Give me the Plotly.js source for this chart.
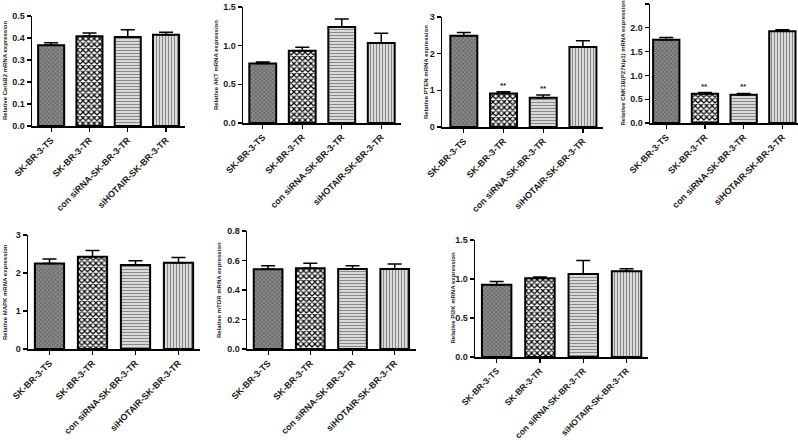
<!DOCTYPE html>
<html>
<head>
<meta charset="utf-8">
<script src="https://cdn.plot.ly/plotly-3.0.1.min.js"></script>
<style>html,body{margin:0;padding:0;background:#fff;}#chart{width:798px;height:442px;}</style>
</head>
<body>
<div id="chart"></div>
<script>
const categories = ["SK-BR-3-TS", "SK-BR-3-TR", "con siRNA-SK-BR-3-TR", "siHOTAIR-SK-BR-3-TR"];

const cerbb2 = [0.367, 0.408, 0.405, 0.415];
const cerbb2Err = [0.011, 0.015, 0.033, 0.011];
const akt = [0.77, 0.935, 1.24, 1.035];
const aktErr = [0.02, 0.045, 0.105, 0.125];
const pten = [2.49, 0.915, 0.80, 2.18];
const ptenErr = [0.09, 0.045, 0.07, 0.17];
const cdkn = [1.75, 0.615, 0.594, 1.93];
const cdknErr = [0.045, 0.025, 0.026, 0.03];
const mapk = [2.25, 2.43, 2.21, 2.27];
const mapkErr = [0.12, 0.16, 0.11, 0.14];
const mtor = [0.54, 0.547, 0.542, 0.542];
const mtorErr = [0.025, 0.034, 0.023, 0.034];
const pi3k = [0.925, 1.01, 1.065, 1.098];
const pi3kErr = [0.042, 0.017, 0.173, 0.034];

const ptenStars = ["", "**", "**", ""];
const cdknStars = ["", "**", "**", ""];

const yTitles = [
  "Relative CerbB2 mRNA expression",
  "Relative AKT mRNA expression",
  "Relative PTEN mRNA expression",
  "Relative CNK1B(P27kip1) mRNA expression",
  "Relative MAPK mRNA expression",
  "Relative mTOR mRNA expression",
  "Relative PI3K mRNA expression"
];
const yRanges = [[0, 0.5], [0, 1.5], [0, 3], [0, 2.5], [0, 3], [0, 0.8], [0, 1.5]];
const yDticks = [0.1, 0.5, 1, 0.5, 1, 0.2, 0.5];
const yFormats = [".1f", ".1f", "d", ".1f", "d", ".1f", ".1f"];

const series = [cerbb2, akt, pten, cdkn, mapk, mtor, pi3k];
const errors = [cerbb2Err, aktErr, ptenErr, cdknErr, mapkErr, mtorErr, pi3kErr];
const stars = [null, null, ptenStars, cdknStars, null, null, null];

const W = 798, H = 442;
const geo = [
  {x0: 32,  unit: 38.3, xs: -0.5,  xe: 3.5,  yb: 126, yt: 16,  tx: 5,   fs: 9},
  {x0: 243, unit: 39.5, xs: -0.5,  xe: 3.5,  yb: 123, yt: 7,   tx: 216, fs: 9},
  {x0: 442, unit: 39.7, xs: -0.55, xe: 3.5,  yb: 127, yt: 17,  tx: 426, fs: 9},
  {x0: 650, unit: 38.7, xs: -0.42, xe: 3.4,  yb: 123, yt: 4,   tx: 623, fs: 9},
  {x0: 28,  unit: 43.0, xs: -0.5,  xe: 3.5,  yb: 349, yt: 235, tx: 5,   fs: 9},
  {x0: 247, unit: 42.2, xs: -0.5,  xe: 3.5,  yb: 349, yt: 231, tx: 219, fs: 9},
  {x0: 475, unit: 43.3, xs: -0.5,  xe: 3.5,  yb: 357, yt: 240, tx: 452, fs: 8.6}
];

const patStyles = [
  {shape: "x", fgcolor: "#555555", bgcolor: "#8a8a8a", size: 3, solidity: 0.35},
  {shape: "x", fgcolor: "#000000", bgcolor: "#ffffff", size: 4, solidity: 0.5},
  {shape: "-", fgcolor: "#888888", bgcolor: "#ececec", size: 3, solidity: 0.45},
  {shape: "|", fgcolor: "#888888", bgcolor: "#ececec", size: 3, solidity: 0.45}
];

const data = [];
const layout = {
  width: W, height: H,
  margin: {l: 0, r: 0, t: 0, b: 0},
  paper_bgcolor: "#fff", plot_bgcolor: "#fff",
  showlegend: false,
  barmode: "overlay",
  annotations: []
};

const fontFamily = "Liberation Sans, Arial, sans-serif";
const yTickFont = {family: fontFamily, size: 9, color: "#1a1a1a", weight: "bold"};

geo.forEach((g, i) => {
  const n = i + 1;
  const xa = "x" + (n === 1 ? "" : n), ya = "y" + (n === 1 ? "" : n);
  const xkey = "xaxis" + (n === 1 ? "" : n), ykey = "yaxis" + (n === 1 ? "" : n);
  categories.forEach((c, k) => {
    const p = patStyles[k];
    data.push({
      type: "bar",
      x: [c],
      y: [series[i][k]],
      xaxis: xa, yaxis: ya,
      width: 0.68,
      marker: {
        color: p.bgcolor,
        line: {color: "#000", width: 2},
        pattern: {shape: p.shape, fgcolor: p.fgcolor, bgcolor: p.bgcolor, size: p.size, solidity: p.solidity, fillmode: "replace"}
      },
      error_y: {type: "data", symmetric: false, array: [errors[i][k]], arrayminus: [0],
                color: "#000", thickness: 1.5, width: 7}
    });
  });
  const xEnd = g.x0 + (g.xe - g.xs) * g.unit;
  layout[xkey] = {
    domain: [g.x0 / W, Math.min(xEnd / W, 1)],
    anchor: ya,
    type: "category",
    categoryorder: "array", categoryarray: categories,
    range: [g.xs, g.xe],
    showline: true, linecolor: "#000", linewidth: 1.5,
    ticks: "outside", ticklen: 4, tickwidth: 1.2, tickcolor: "#000",
    tickangle: -45,
    tickfont: {family: fontFamily, size: g.fs, color: "#1a1a1a", weight: "bold"},
    showgrid: false, zeroline: false, fixedrange: true
  };
  layout[ykey] = {
    domain: [1 - g.yb / H, 1 - g.yt / H],
    anchor: xa,
    range: yRanges[i],
    dtick: yDticks[i], tick0: 0,
    tickformat: yFormats[i],
    showline: true, linecolor: "#000", linewidth: 1.5,
    ticks: "outside", ticklen: 4, tickwidth: 1.2, tickcolor: "#000",
    tickfont: yTickFont,
    showgrid: false, zeroline: false, fixedrange: true
  };
  layout.annotations.push({
    xref: "paper", yref: "paper",
    x: g.tx / W, y: 1 - ((g.yb + g.yt) / 2) / H,
    xanchor: "center", yanchor: "middle",
    textangle: -90, showarrow: false,
    text: yTitles[i],
    font: {family: fontFamily, size: 6, color: "#222", weight: "bold"}
  });
  if (stars[i]) {
    stars[i].forEach((s, k) => {
      if (!s) return;
      layout.annotations.push({
        xref: xa, yref: ya,
        x: categories[k], y: series[i][k] + errors[i][k],
        yanchor: "bottom", showarrow: false, yshift: 0,
        text: s,
        font: {family: fontFamily, size: 8, color: "#222", weight: "bold"}
      });
    });
  }
});

Plotly.newPlot("chart", data, layout, {displayModeBar: false, staticPlot: true});
</script>
</body>
</html>
